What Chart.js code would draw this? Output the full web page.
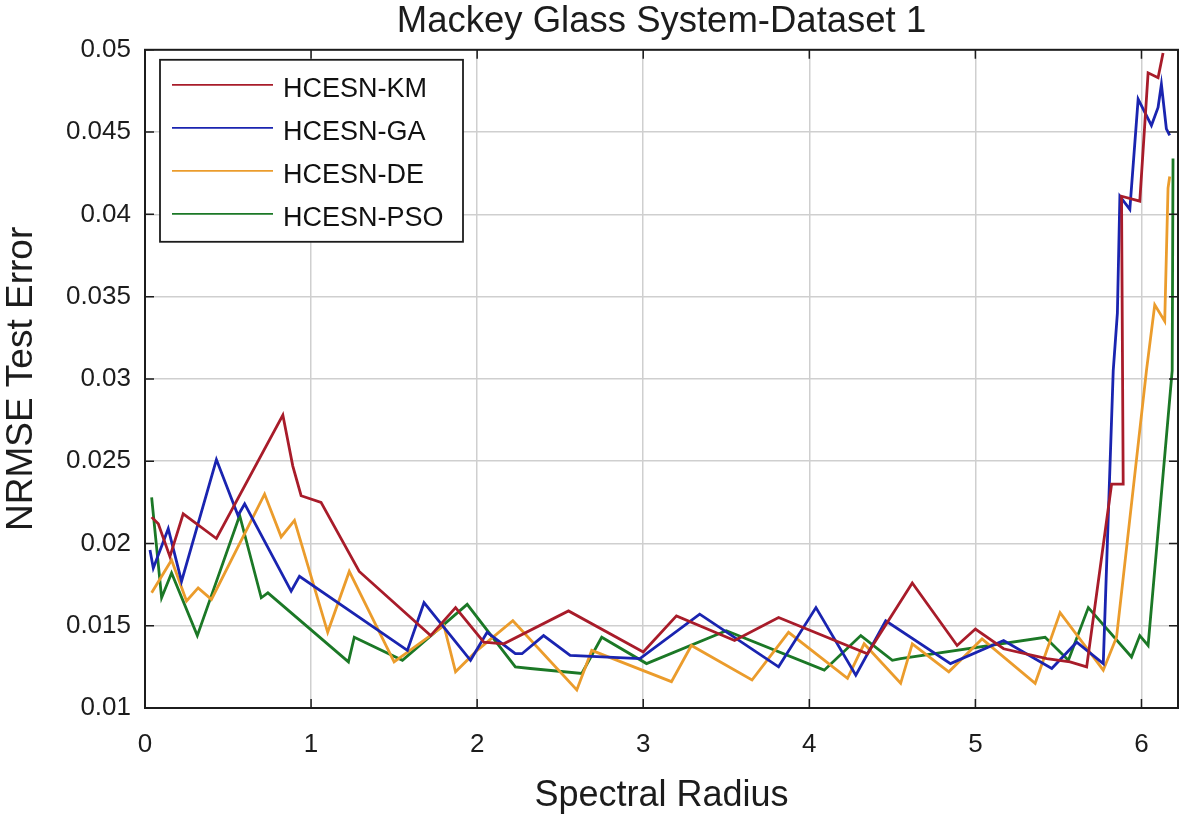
<!DOCTYPE html>
<html>
<head>
<meta charset="utf-8">
<title>Mackey Glass System-Dataset 1</title>
<script src="https://cdn.jsdelivr.net/npm/chart.js@4.4.1/dist/chart.umd.min.js"></script>
<style>
  html, body { margin: 0; padding: 0; background: #fff; }
</style>
</head>
<body>
<canvas id="graphique-nrmse" width="1181" height="818"></canvas>
<script>
// values
const kmX = [0.04, 0.08, 0.15, 0.23, 0.43, 0.83, 0.89, 0.94, 1.06, 1.29, 1.72, 1.87, 2.04, 2.16, 2.55, 3.0, 3.2, 3.55, 3.815, 4.35, 4.62, 4.89, 5.0, 5.17, 5.43, 5.57, 5.67, 5.82, 5.89, 5.88, 5.99, 6.04, 6.10, 6.13];
const kmY = [0.0216, 0.0212, 0.0192, 0.0218, 0.0203, 0.0278, 0.0247, 0.0229, 0.0225, 0.0183, 0.0144, 0.0161, 0.0140, 0.0139, 0.0159, 0.0134, 0.0156, 0.0141, 0.0155, 0.0133, 0.0176, 0.0138, 0.0148, 0.0136, 0.0130, 0.0128, 0.0125, 0.0236, 0.0236, 0.0411, 0.0408, 0.0486, 0.0483, 0.0498];

const gaX = [0.03, 0.05, 0.14, 0.22, 0.43, 0.56, 0.60, 0.88, 0.93, 1.58, 1.68, 1.96, 2.06, 2.23, 2.27, 2.40, 2.56, 2.98, 3.34, 3.815, 4.04, 4.28, 4.46, 4.85, 5.17, 5.46, 5.61, 5.77, 5.83, 5.855, 5.87, 5.93, 5.98, 6.06, 6.10, 6.12, 6.15, 6.17];
const gaY = [0.0196, 0.0185, 0.0209, 0.0177, 0.0251, 0.0217, 0.0224, 0.0171, 0.0180, 0.0135, 0.0164, 0.0129, 0.0146, 0.0133, 0.0133, 0.0144, 0.0132, 0.0130, 0.0157, 0.0125, 0.0161, 0.0120, 0.0153, 0.0127, 0.0141, 0.0124, 0.0140, 0.0127, 0.0305, 0.0340, 0.0411, 0.0403, 0.0470, 0.0454, 0.0465, 0.0479, 0.0452, 0.0448];

const deX = [0.04, 0.16, 0.25, 0.32, 0.40, 0.72, 0.82, 0.90, 1.10, 1.23, 1.50, 1.80, 1.87, 2.0, 2.215, 2.60, 2.69, 3.17, 3.29, 3.655, 3.875, 4.23, 4.33, 4.55, 4.62, 4.84, 5.04, 5.36, 5.51, 5.77, 5.85, 6.03, 6.08, 6.14, 6.16, 6.17];
const deY = [0.0170, 0.0190, 0.0165, 0.0173, 0.0166, 0.0230, 0.0204, 0.0214, 0.0146, 0.0183, 0.0128, 0.0150, 0.0122, 0.0135, 0.0153, 0.0111, 0.0135, 0.0116, 0.0138, 0.0117, 0.0146, 0.0118, 0.0139, 0.0115, 0.0139, 0.0122, 0.0142, 0.0115, 0.0158, 0.0123, 0.0143, 0.0305, 0.0345, 0.0335, 0.0416, 0.0423];

const psoX = [0.04, 0.10, 0.16, 0.315, 0.57, 0.70, 0.74, 1.225, 1.26, 1.55, 1.94, 2.23, 2.32, 2.63, 2.75, 3.02, 3.50, 4.09, 4.31, 4.50, 4.55, 5.42, 5.56, 5.68, 5.94, 5.99, 6.04, 6.185, 6.19];
const psoY = [0.0228, 0.0167, 0.0182, 0.0144, 0.0217, 0.0167, 0.0170, 0.0128, 0.0143, 0.0129, 0.0163, 0.0125, 0.0124, 0.0121, 0.0143, 0.0127, 0.0147, 0.0123, 0.0144, 0.0129, 0.0130, 0.0143, 0.0129, 0.0161, 0.0131, 0.0144, 0.0138, 0.0305, 0.0434];

const seriesLabels = ["HCESN-KM", "HCESN-GA", "HCESN-DE", "HCESN-PSO"];
const xTicks = [0, 1, 2, 3, 4, 5, 6];
const yTicks = [0.01, 0.015, 0.02, 0.025, 0.03, 0.035, 0.04, 0.045, 0.05];

const colors = ["#a81c2a", "#1a24b0", "#eb9c2c", "#1b7826"];
const ink = "#1c1c1c";
const family = '"Liberation Sans", Arial, Helvetica, sans-serif';

const toPoints = (xs, ys) => xs.map((x, i) => ({ x: x, y: ys[i] }));
const seriesData = [toPoints(kmX, kmY), toPoints(gaX, gaY), toPoints(deX, deY), toPoints(psoX, psoY)];

// box, inward ticks (matlab style) and the legend
const framePlugin = {
  id: "frame",
  afterDatasetsDraw(chart) {
    const { ctx, chartArea: a, scales } = chart;
    const tl = 9;
    ctx.save();
    ctx.strokeStyle = ink;
    ctx.lineWidth = 1.5;
    ctx.beginPath();
    xTicks.forEach((v) => {
      const px = scales.x.getPixelForValue(v);
      ctx.moveTo(px, a.bottom); ctx.lineTo(px, a.bottom - tl);
      ctx.moveTo(px, a.top); ctx.lineTo(px, a.top + tl);
    });
    yTicks.forEach((v) => {
      const py = scales.y.getPixelForValue(v);
      ctx.moveTo(a.left, py); ctx.lineTo(a.left + tl, py);
      ctx.moveTo(a.right, py); ctx.lineTo(a.right - tl, py);
    });
    ctx.stroke();
    ctx.lineWidth = 2;
    ctx.strokeRect(a.left, a.top, a.right - a.left, a.bottom - a.top);

    // legend
    const lx = a.left + 15, ly = a.top + 10, lw = 303, lh = 182;
    ctx.fillStyle = "#fff";
    ctx.fillRect(lx, ly, lw, lh);
    ctx.lineWidth = 1.8;
    ctx.strokeRect(lx, ly, lw, lh);
    ctx.font = "27px " + family;
    ctx.textBaseline = "middle";
    ctx.textAlign = "left";
    chart.data.datasets.forEach((ds, i) => {
      const rowY = ly + 25 + i * 43;
      ctx.strokeStyle = ds.borderColor;
      ctx.lineWidth = 1.8;
      ctx.beginPath();
      ctx.moveTo(lx + 12, rowY);
      ctx.lineTo(lx + 113, rowY);
      ctx.stroke();
      ctx.fillStyle = "#111";
      ctx.fillText(ds.label, lx + 123, rowY + 5);
    });
    ctx.restore();
  },
};

const config = {
  type: "scatter",
  data: {
    datasets: seriesLabels.map((label, i) => ({
      label: label,
      data: seriesData[i],
      showLine: true,
      borderColor: colors[i],
      backgroundColor: colors[i],
      borderWidth: 2.8,
      pointRadius: 0,
      tension: 0,
    })),
  },
  options: {
    responsive: false,
    animation: false,
    devicePixelRatio: 1,
    layout: { padding: { top: 0, right: 3, bottom: 0, left: 0 } },
    plugins: {
      legend: { display: false },
      tooltip: { enabled: false },
      title: {
        display: true,
        fullSize: false,
        text: "Mackey Glass System-Dataset 1",
        color: ink,
        font: { family: family, size: 36.5, weight: "normal", lineHeight: 1.2 },
        padding: { top: 0, bottom: 6 },
      },
    },
    scales: {
      x: {
        type: "linear",
        min: 0,
        max: 6.22,
        afterBuildTicks: (s) => { s.ticks = xTicks.map((v) => ({ value: v })); },
        afterFit: (s) => { s.height = 110; },
        grid: { color: "#cfcfcf", lineWidth: 1.5, drawTicks: false },
        border: { display: false },
        ticks: {
          color: ink,
          padding: 21,
          font: { family: family, size: 26, lineHeight: 1.2 },
          callback: (v) => String(v),
        },
        title: {
          display: true,
          text: "Spectral Radius",
          color: ink,
          font: { family: family, size: 36, lineHeight: 1.2 },
          padding: { top: 0, bottom: 0 },
        },
      },
      y: {
        type: "linear",
        min: 0.01,
        max: 0.05,
        afterBuildTicks: (s) => { s.ticks = yTicks.map((v) => ({ value: v })); },
        afterFit: (s) => { s.width = 145; },
        grid: { color: "#cfcfcf", lineWidth: 1.5, drawTicks: false },
        border: { display: false },
        ticks: {
          color: ink,
          padding: 14,
          font: { family: family, size: 26, lineHeight: 1.2 },
          callback: (v) => parseFloat(v.toFixed(3)).toString(),
        },
        title: {
          display: true,
          text: "NRMSE Test Error",
          color: ink,
          font: { family: family, size: 37, lineHeight: 1.2 },
          padding: { top: 0, bottom: 0 },
        },
      },
    },
  },
  plugins: [framePlugin],
};

const graphique = new Chart(document.querySelector("#graphique-nrmse"), config);
</script>
</body>
</html>
